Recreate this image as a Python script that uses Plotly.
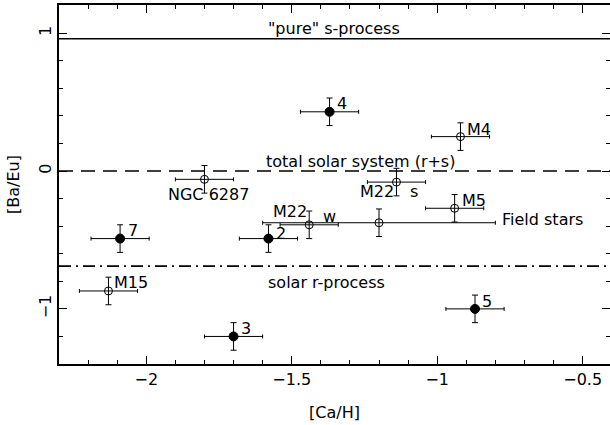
import plotly.graph_objects as go

# ---- data ----
names = ["NGC 6287", "4", "M4", "M22 s", "M5", "Field stars", "M22 w", "7", "2", "M15", "3", "5"]
ca_h = [-1.80, -1.37, -0.92, -1.14, -0.94, -1.20, -1.44, -2.09, -1.58, -2.13, -1.70, -0.87]
ba_eu = [-0.06, 0.43, 0.25, -0.08, -0.27, -0.375, -0.39, -0.49, -0.49, -0.87, -1.20, -1.00]
ca_err = [0.1, 0.1, 0.1, 0.1, 0.1, 0.4, 0.1, 0.1, 0.1, 0.1, 0.1, 0.1]
ba_err = [0.1, 0.1, 0.1, 0.1, 0.1, 0.1, 0.1, 0.1, 0.1, 0.1, 0.1, 0.1]
filled = [False, True, False, False, False, False, False, True, True, False, True, True]

ref_levels = [0.96, 0.0, -0.69]
ref_names = ['"pure" s-process', "total solar system (r+s)", "solar r-process"]
ref_dash = ["solid", "14px,8px", "12px,5px,2px,5px"]

# label texts and pixel offsets relative to points (index, text, dx, dy, anchor)
point_labels = [
    (0, "NGC 6287", 4, -15, "center"),
    (1, "4", 6, 8, "left"),
    (2, "M4", 6, 7, "left"),
    (3, "M22", -19, -9, "center"),
    (3, "s", 18, -9, "center"),
    (4, "M5", 6, 8, "left"),
    (5, "Field stars", 122, 3, "left"),
    (6, "M22", -19, 13, "center"),
    (6, "w", 20, 8, "center"),
    (7, "7", 7, 8, "left"),
    (8, "2", 7, 5, "left"),
    (9, "M15", 5, 8, "left"),
    (10, "3", 6, 8, "left"),
    (11, "5", 6, 7, "left"),
]

FONT = "DejaVu Sans"
FS = 16
fig = go.Figure()

for is_filled in (True, False):
    idx = [i for i in range(len(names)) if filled[i] == is_filled]
    fig.add_trace(go.Scatter(
        x=[ca_h[i] for i in idx], y=[ba_eu[i] for i in idx],
        mode="markers",
        marker=dict(symbol="circle" if is_filled else "circle-open",
                    size=9 if is_filled else 8, color="black",
                    line=dict(width=1, color="black")),
        error_x=dict(type="data", array=[ca_err[i] for i in idx], color="black", thickness=1, width=2),
        error_y=dict(type="data", array=[ba_err[i] for i in idx], color="black", thickness=1, width=3),
        showlegend=False, hoverinfo="skip",
    ))

shapes = []
annotations = []
text_shift = [10, 10, -16]
text_x = [-1.354, -1.264, -1.381]
for lvl, nm, dsh, ys, tx in zip(ref_levels, ref_names, ref_dash, text_shift, text_x):
    shapes.append(dict(type="line", xref="paper", x0=0, x1=1, yref="y", y0=lvl, y1=lvl,
                       line=dict(color="black", width=1.6, dash=dsh)))
    annotations.append(dict(x=tx, y=lvl, xref="x", yref="y", text=nm, showarrow=False,
                            yshift=ys, font=dict(size=FS, family=FONT, color="black")))

for i, txt, dx, dy, anc in point_labels:
    annotations.append(dict(x=ca_h[i], y=ba_eu[i], xref="x", yref="y", text=txt, showarrow=False,
                            xshift=dx, yshift=dy, xanchor=anc, borderpad=0,
                            font=dict(size=FS, family=FONT, color="black")))

axis_common = dict(showline=True, linecolor="black", linewidth=1.5, mirror="ticks",
                   ticks="inside", ticklen=8, tickwidth=1, tickcolor="black",
                   showgrid=False, zeroline=False, automargin=False,
                   tickfont=dict(size=FS, family=FONT, color="black"))

fig.update_layout(
    width=610, height=425,
    margin=dict(l=59, r=0, t=5, b=61),
    paper_bgcolor="white", plot_bgcolor="white",
    xaxis=dict(range=[-2.30, -0.406], tickvals=[-2, -1.5, -1, -0.5],
               minor=dict(dtick=0.1, tick0=0, ticks="inside", ticklen=4, tickcolor="black", showgrid=False),
               title=dict(text="[Ca/H]", font=dict(size=FS, family=FONT, color="black"), standoff=19),
               **axis_common),
    yaxis=dict(range=[-1.40, 1.205], tickvals=[-1, 0, 1], tickangle=-90,
               minor=dict(dtick=0.2, tick0=0, ticks="inside", ticklen=4, tickcolor="black", showgrid=False),
               title=dict(text="[Ba/Eu]", font=dict(size=FS, family=FONT, color="black"), standoff=12),
               **axis_common),
    shapes=shapes,
    annotations=annotations,
)

fig.write_html("out.html", config={"displayModeBar": False},
               post_script="document.body.style.margin='0';")
